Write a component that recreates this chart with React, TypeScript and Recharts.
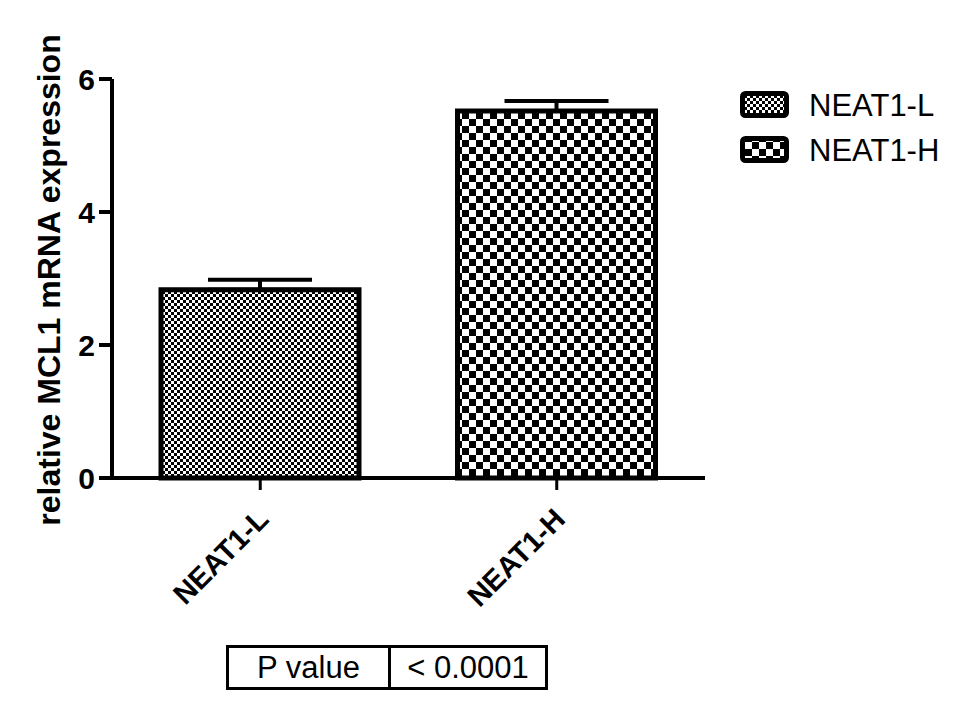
import React from 'react';
import { ComposedChart, Bar, XAxis, YAxis, ErrorBar, Cell } from 'recharts';

const categories = ['NEAT1-L', 'NEAT1-H'];
const means = [2.83, 5.52];
const sems = [0.15, 0.15];
const yTicks = [0, 2, 4, 6];
const legendLabels = ['NEAT1-L', 'NEAT1-H'];
const patternIds = ['patL', 'patH'];
const yAxisTitle = 'relative MCL1 mRNA expression';
const pValueLabel = 'P value';
const pValueText = '< 0.0001';

const data = categories.map((c, i) => ({ name: c, value: means[i], err: [0, sems[i]] }));

const FONT = '"Liberation Sans", Arial, sans-serif';

const Patterns = () => (
  <svg width={0} height={0} style={{ position: 'absolute' }}>
    <defs>
      <pattern id="patL" patternUnits="userSpaceOnUse" width={6} height={6}>
        <rect x={0} y={0} width={6} height={6} fill="#000" />
        <rect x={0} y={0} width={3} height={3} fill="#fff" />
        <rect x={3} y={3} width={3} height={3} fill="#fff" />
      </pattern>
      <pattern id="patH" patternUnits="userSpaceOnUse" width={14} height={14}>
        <rect x={0} y={0} width={14} height={14} fill="#fff" />
        <rect x={0} y={0} width={7} height={7} fill="#000" />
        <rect x={7} y={7} width={7} height={7} fill="#000" />
      </pattern>
    </defs>
  </svg>
);

const XTick = (props: any) => {
  const { x, y, payload } = props;
  return (
    <g transform={`translate(${x + 10},${y + 29})`}>
      <text
        transform="rotate(-45)"
        textAnchor="end"
        fontFamily={FONT}
        fontWeight="bold"
        fontSize={29}
        fill="#000"
      >
        {payload.value}
      </text>
    </g>
  );
};

const LegendBlock = () => (
  <svg width={240} height={90} style={{ position: 'absolute', left: 738, top: 86 }}>
    {legendLabels.map((l, i) => (
      <g key={l}>
        <rect
          x={4.5}
          y={7.5 + i * 45}
          width={44}
          height={22}
          rx={3}
          fill={`url(#${patternIds[i]})`}
          stroke="#000"
          strokeWidth={5}
        />
        <text x={71} y={30 + i * 45} fontFamily={FONT} fontSize={31} fill="#000">
          {l}
        </text>
      </g>
    ))}
  </svg>
);

export default function App() {
  return (
    <div style={{ position: 'absolute', left: 0, top: 0, width: 974, height: 710, background: '#fff' }}>
      <Patterns />
      <ComposedChart
        width={974}
        height={710}
        data={data}
        margin={{ top: 79, right: 269, bottom: 202, left: 0 }}
        barSize={198}
      >
        <XAxis
          dataKey="name"
          height={30}
          axisLine={{ stroke: '#000', strokeWidth: 4 }}
          tickLine={{ stroke: '#000', strokeWidth: 3 }}
          tickSize={12}
          tick={<XTick />}
          interval={0}
        />
        <YAxis
          width={112}
          domain={[0, 6]}
          ticks={yTicks}
          axisLine={{ stroke: '#000', strokeWidth: 4 }}
          tickLine={{ stroke: '#000', strokeWidth: 4 }}
          tickSize={13}
          tickMargin={4}
          tick={{ fontFamily: FONT, fontWeight: 'bold', fontSize: 30, fill: '#000' }}
          label={{
            content: () => (
              <text
                x={60}
                y={280}
                transform="rotate(-90 60 280)"
                textAnchor="middle"
                fontFamily={FONT}
                fontWeight="bold"
                fontSize={32}
                fill="#000"
              >
                {yAxisTitle}
              </text>
            ),
          }}
        />
        <Bar dataKey="value" stroke="#000" strokeWidth={5} isAnimationActive={false}>
          {data.map((d, i) => (
            <Cell key={d.name} fill={`url(#${patternIds[i]})`} />
          ))}
          <ErrorBar dataKey="err" width={52} stroke="#000" strokeWidth={4} direction="y" isAnimationActive={false} />
        </Bar>
      </ComposedChart>
      <LegendBlock />
      <div
        style={{
          position: 'absolute',
          left: 226,
          top: 645,
          width: 322,
          height: 45,
          boxSizing: 'border-box',
          border: '3px solid #000',
          display: 'flex',
          fontFamily: FONT,
          fontSize: 31,
          color: '#000',
        }}
      >
        <div
          style={{
            width: 162,
            borderRight: '3px solid #000',
            display: 'flex',
            alignItems: 'center',
            justifyContent: 'center',
            boxSizing: 'border-box',
          }}
        >
          {pValueLabel}
        </div>
        <div style={{ flex: 1, display: 'flex', alignItems: 'center', justifyContent: 'center' }}>{pValueText}</div>
      </div>
    </div>
  );
}
